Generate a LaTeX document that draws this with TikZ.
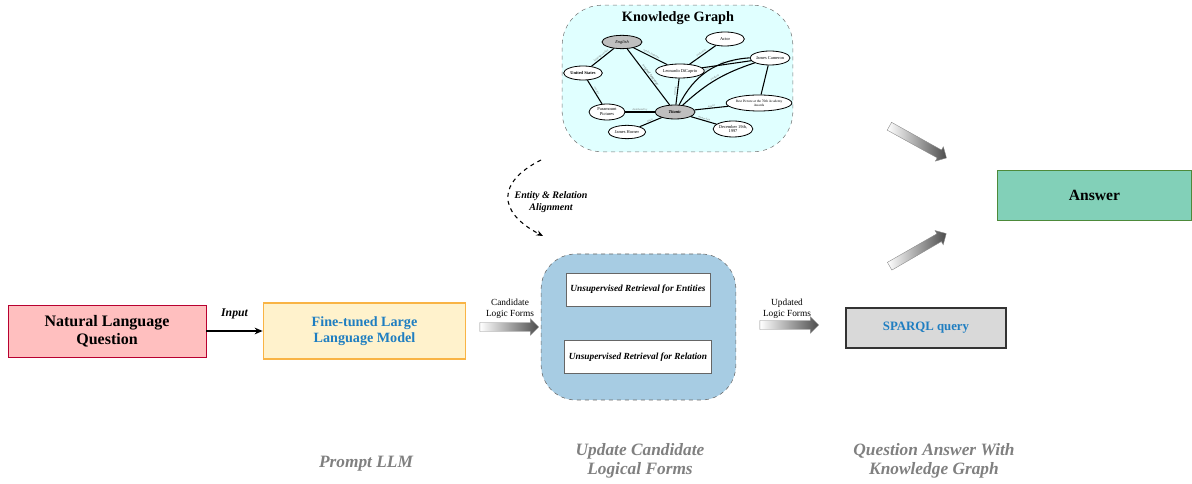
\documentclass[tikz,border=0pt]{standalone}
\usepackage{fontspec}
\setmainfont{Liberation Serif}
\usetikzlibrary{positioning,shapes.geometric,shapes.arrows,arrows.meta}
\definecolor{nlqfill}{HTML}{FFBFBF}
\definecolor{nlqline}{HTML}{B80030}
\definecolor{llmfill}{HTML}{FFF2CC}
\definecolor{llmline}{HTML}{F9B445}
\definecolor{bluetext}{HTML}{1F7EC1}
\definecolor{retfill}{HTML}{A7CCE3}
\definecolor{kgfill}{HTML}{E0FFFF}
\definecolor{ansfill}{HTML}{82D0B8}
\definecolor{ansline}{HTML}{4D8A3A}
\definecolor{sparqlfill}{HTML}{D9D9D9}
\definecolor{captgray}{HTML}{808080}

\begin{document}
\begin{tikzpicture}[x=0.75pt,y=-0.75pt,
  kgnode/.style={ellipse,draw,line width=0.6pt,fill=white,inner sep=0pt,align=center,font=\fontsize{3.3}{3.7}\selectfont},
  kglink/.style={line width=0.8pt},
  kglabel/.style={font=\fontsize{2}{2.2}\selectfont,text=black!55,sloped,above=0pt,inner sep=0.4pt},
  fatarrow/.style={single arrow,draw=black!45,line width=0.3pt,inner xsep=0pt,inner ysep=3.2pt,minimum width=0pt,single arrow head extend=2.8pt,left color=white,right color=black!70},
  retbox/.style={draw=black!60,fill=white,minimum width=106.5pt,minimum height=25pt,font=\fontsize{7}{8}\selectfont\bfseries\itshape},
  caption/.style={text=captgray,align=center,font=\fontsize{13}{14}\selectfont\bfseries\itshape}]
\useasboundingbox (0,0) rectangle (1192,484);

\node[draw=black!55,dashed,fill=kgfill,rounded corners=30pt,minimum width=173pt,minimum height=110pt] (kg) at (677.5,78.5) {};
\node[font=\fontsize{10.7}{12}\selectfont\bfseries] (kgtitle) at (678,18) {Knowledge Graph};

\node[kgnode,fill=black!25,minimum width=30pt,minimum height=10pt] (eng) at (622,42) {\itshape English};
\node[kgnode,minimum width=29pt,minimum height=10.5pt] (act) at (725,39) {Actor};
\node[kgnode,minimum width=29pt,minimum height=10.5pt] (usa) at (583,73) {\bfseries United States};
\node[kgnode,minimum width=32pt,minimum height=10.5pt] (leo) at (680,71) {Leonardo DiCaprio};
\node[kgnode,minimum width=30pt,minimum height=10.5pt] (cam) at (770,58) {James Cameron};
\node[kgnode,fill=black!25,minimum width=30pt,minimum height=10.5pt] (tit) at (675,112) {\bfseries\itshape Titanic};
\node[kgnode,minimum width=27pt,minimum height=12pt] (par) at (607,112) {Paramount\\Pictures};
\node[kgnode,minimum width=28pt,minimum height=10pt] (hor) at (627,132) {James Horner};
\node[kgnode,minimum width=42pt,minimum height=12pt,font=\fontsize{2.6}{3.2}\selectfont] (best) at (759,103) {Best Picture at the 70th Academy\\Awards};
\node[kgnode,minimum width=26pt,minimum height=12pt] (dec) at (733,129) {December 19th,\\1997};

\draw[kglink] (usa) -- node[kglabel] {language spoken} (eng);
\draw[kglink] (eng) -- node[kglabel] {speaks language} (leo);
\draw[kglink] (eng) -- node[kglabel,font=\fontsize{2.6}{3}\selectfont\itshape,text=black!70] {original language} (tit);
\draw[kglink] (leo) -- node[kglabel] {profession} (act);
\draw[kglink] (leo) -- node[kglabel] {worked with} (cam);
\draw[kglink] (tit) -- node[kglabel] {starring} (leo);
\draw[kglink] (tit) to[bend left=30] node[kglabel] {director} (cam);
\draw[kglink] (tit) to[bend left=12] node[kglabel] {producer} (cam);
\draw[kglink] (tit) -- node[kglabel] {award} (best);
\draw[kglink] (cam) -- (best);
\draw[kglink] (usa) -- node[kglabel] {country} (par);
\draw[kglink] (tit) -- node[kglabel] {distributed by} (par);
\draw[kglink] (tit) -- node[kglabel] {music} (hor);
\draw[kglink] (tit) -- node[kglabel] {release date} (dec);

\node[draw=nlqline,fill=nlqfill,line width=0.7pt,minimum width=148.5pt,minimum height=39pt,align=center,font=\fontsize{12}{13.5}\selectfont\bfseries] (nlq) at (107,331) {Natural Language\\Question};
\node[draw=llmline,fill=llmfill,line width=0.8pt,minimum width=152pt,minimum height=42pt,align=center,text=bluetext,font=\fontsize{10.6}{12.5}\selectfont\bfseries] (llm) at (364.5,331) {Fine-tuned Large\\Language Model};
\draw[-{Stealth[length=6pt,width=5pt]},line width=1pt] (nlq) -- node[above=5pt,font=\fontsize{8.8}{10}\selectfont\bfseries\itshape] (input) {Input} (llm);

\node[align=center,font=\fontsize{7}{8}\selectfont] (cand) at (510,309) {Candidate\\Logic Forms};
\node[fatarrow,minimum height=44pt] (candarrow) at (507,327) {};

\node[draw=black!60,dashed,fill=retfill,rounded corners=26pt,minimum width=146pt,minimum height=109.5pt] (ret) at (638.5,327) {};
\node[retbox] (ent) at (638,289.5) {Unsupervised Retrieval for Entities};
\node[retbox] (rel) at (638,357) {Unsupervised Retrieval for Relation};

\coordinate (al1) at (541,160);
\coordinate (al2) at (543,236);
\draw[dashed,line width=0.8pt,-{Stealth[length=5pt,width=4pt]}] (al1) .. controls (497,182) and (497,212) .. (al2);
\node[align=center,font=\fontsize{7.5}{9}\selectfont\bfseries\itshape] (align) at (551,202) {Entity \& Relation\\Alignment};

\node[align=center,font=\fontsize{7}{8}\selectfont] (upd) at (787,309) {Updated\\Logic Forms};
\node[fatarrow,minimum height=44pt] (updarrow) at (787,325) {};

\node[draw=black!80,fill=sparqlfill,line width=0.8pt,minimum width=120pt,minimum height=30pt,text=bluetext,font=\fontsize{9.6}{11}\selectfont\bfseries] (sparql) at (926,328) {SPARQL query};
\node[draw=ansline,fill=ansfill,line width=0.8pt,minimum width=146pt,minimum height=38pt,font=\fontsize{11.7}{13}\selectfont\bfseries] (ans) at (1094.5,195.5) {Answer};

\node[fatarrow,minimum height=49pt,rotate=-29] (kgarrow) at (916,141) {};
\node[fatarrow,minimum height=49pt,rotate=30] (sparqlarrow) at (916,251) {};

\node[caption] (cap1) at (366,464) {Prompt LLM};
\node[caption] (cap2) at (640,461) {Update Candidate\\Logical Forms};
\node[caption] (cap3) at (934,461) {Question Answer With\\Knowledge Graph};
\end{tikzpicture}
\end{document}
